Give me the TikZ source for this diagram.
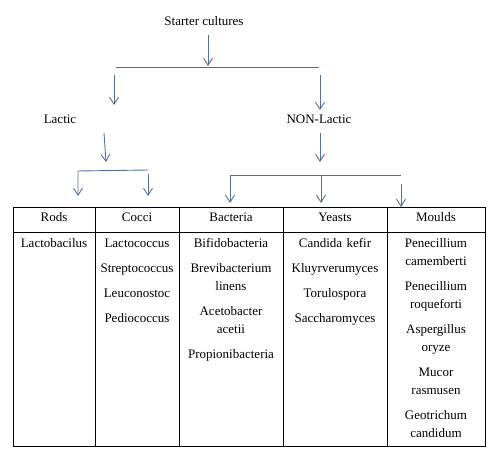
\documentclass[tikz,border=0pt]{standalone}
\usepackage{fontspec}
\setmainfont{Liberation Serif}
\usetikzlibrary{arrows.meta}
\definecolor{arrowCol}{RGB}{84, 112, 152}
\tikzset{myArrow/.style={draw=arrowCol, line width=0.9pt, -{Straight Barb[length=7pt,width=9pt]}}}
\tikzset{myBar/.style={draw=arrowCol, line width=0.9pt}}
\tikzset{myTabLine/.style={line width=0.8pt,color=black}}
\tikzset{myText/.style={font=\fontsize{13}{18}\selectfont, inner sep=0pt, anchor=base}}
\tikzset{myCell/.style={myText, text width=100pt, align=center}}
\begin{document}
\begin{tikzpicture}[x=1pt,y=-1pt]
	\useasboundingbox (0,0) rectangle (496,450);
	%\draw[help lines, step=50pt](0,0) grid(496,450);
	\node[myText] (starter) at (204,25.5) {Starter cultures};
	\node[myText] (lactic) at (60,123.5) {Lactic};
	\node[myText] (nonLactic) at (319,123.5) {NON-Lactic};

	% top fork
	\coordinate (topArrS) at (208,35);
	\coordinate (topArrE) at (208,66);
	\coordinate (topBarL) at (116,67);
	\coordinate (topBarR) at (319,67);
	\draw[myArrow] (topArrS) -- (topArrE);
	\draw[myBar] (topBarL) -- (topBarR);
	\coordinate (lacArrS) at (114,75);
	\coordinate (lacArrE) at (114,105);
	\coordinate (nonArrS) at (320,75);
	\coordinate (nonArrE) at (320,110);
	\draw[myArrow] (lacArrS) -- (lacArrE);
	\draw[myArrow] (nonArrS) -- (nonArrE);

	% lactic fork
	\coordinate (lacDownS) at (104,133);
	\coordinate (lacDownE) at (106,162);
	\draw[myArrow] (lacDownS) -- (lacDownE);
	\coordinate (lacBarL) at (78,171);
	\coordinate (lacBarR) at (148,170);
	\coordinate (rodsArrE) at (78,196);
	\coordinate (coccArrS) at (148,174);
	\coordinate (coccArrE) at (148,196);
	\draw[myArrow] (lacBarR) -- (lacBarL) -- (rodsArrE);
	\draw[myArrow] (coccArrS) -- (coccArrE);

	% non-lactic fork
	\coordinate (nonDownS) at (320,133);
	\coordinate (nonDownE) at (320,162);
	\draw[myArrow] (nonDownS) -- (nonDownE);
	\coordinate (nonBarL) at (230,175);
	\coordinate (nonBarR) at (401,175);
	\draw[myBar] (nonBarL) -- (nonBarR);
	\draw[myArrow] (nonBarL) -- (230,203);
	\draw[myArrow] (321,175) -- (321,203);
	\draw[myArrow] (401,184) -- (401,207);

	% table
	\draw[myTabLine] (13,207) rectangle (485,446);
	\draw[myTabLine] (13,232) -- (485,232);
	\foreach \x in {95,179,283,387}
		\draw[myTabLine] (\x,207) -- (\x,446);

	\foreach \name/\xc/\head/\entries in {
		rods/54/Rods/{Lactobacilus},
		cocci/137/Cocci/{Lactococcus\\[7pt]Streptococcus\\[7pt]Leuconostoc\\[7pt]Pediococcus},
		bacteria/231/Bacteria/{Bifidobacteria\\[7pt]Brevibacterium\\linens\\[7pt]Acetobacter\\acetii\\[7pt]Propionibacteria},
		yeasts/335/Yeasts/{Candida kefir\\[7pt]Kluyrverumyces\\[7pt]Torulospora\\[7pt]Saccharomyces},
		moulds/436/Moulds/{Penecillium\\camemberti\\[7pt]Penecillium\\roqueforti\\[7pt]Aspergillus\\oryze\\[7pt]Mucor\\rasmusen\\[7pt]Geotrichum\\candidum}}
	{
		\node[myText] (\name Head) at (\xc,221.5) {\head};
		\node[myCell] (\name List) at (\xc,247.5) {\entries};
	}
\end{tikzpicture}
\end{document}
